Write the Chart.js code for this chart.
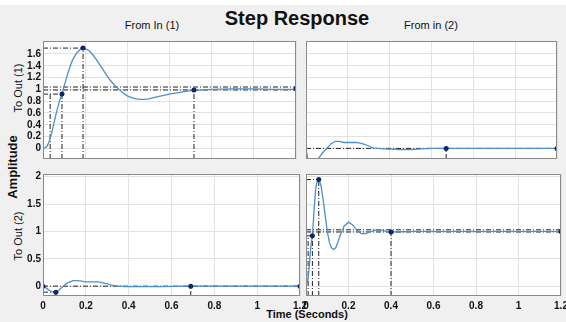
<!DOCTYPE html>
<html>
<head>
  <title>Step Response</title>
  <script src="https://cdn.jsdelivr.net/npm/chart.js"></script>
  <style>
    body { margin: 0; background: #f0f0f0; overflow: hidden; font-family: "Liberation Sans", Arial, sans-serif; color: #111; }
    #fig { position: relative; width: 566px; height: 322px; background: #f0f0f0; }
    #fig canvas { position: absolute; }
    .txt { position: absolute; white-space: nowrap; line-height: 1; }
    .rot { transform: translate(-50%, -50%) rotate(-90deg); }
  </style>
</head>
<body>
<div id="fig">
  <div style="position:absolute;left:0;top:0;width:566px;height:5px;background:#fff"></div>
  <canvas id="br" width="266" height="142" style="left:300px;top:170px;z-index:1"></canvas>
  <canvas id="bl" width="310" height="142" style="left:0;top:170px;z-index:2"></canvas>
  <canvas id="tr" width="261" height="126" style="left:300px;top:37px;z-index:1"></canvas>
  <canvas id="tl" width="300" height="126" style="left:0;top:37px;z-index:2"></canvas>

  <div class="txt" style="left:297px;top:8px;transform:translateX(-50%);font-size:20px;font-weight:bold">Step Response</div>
  <div class="txt" style="left:152px;top:20px;transform:translateX(-50%);font-size:11px">From In (1)</div>
  <div class="txt" style="left:431px;top:20px;transform:translateX(-50%);font-size:11px">From in (2)</div>
  <div class="txt rot" style="left:12px;top:167px;font-size:13px;font-weight:bold">Amplitude</div>
  <div class="txt rot" style="left:18px;top:88px;font-size:11px">To Out (1)</div>
  <div class="txt rot" style="left:18px;top:236px;font-size:11px">To Out (2)</div>
  <div class="txt" style="left:307px;top:309px;transform:translateX(-50%);font-size:11px;font-weight:bold">Time (Seconds)</div>
</div>

<script>
  // axes
  const xTicks = [0, 0.2, 0.4, 0.6, 0.8, 1, 1.2];
  const xRange = [0, 1.2];
  const yTicksTop = [0, 0.2, 0.4, 0.6, 0.8, 1, 1.2, 1.4, 1.6];
  const yRangeTop = [-0.18, 1.82];
  const yTicksBottom = [0, 0.5, 1, 1.5, 2];
  const yRangeBottom = [-0.18, 2.05];

  // From In(1) to Out(1)
  const t11 = [0, 0.01, 0.02, 0.03, 0.04, 0.05, 0.06, 0.07, 0.08, 0.09, 0.1, 0.12, 0.14, 0.16, 0.18, 0.19, 0.2, 0.22, 0.24, 0.26, 0.28, 0.3, 0.32, 0.34, 0.36, 0.38, 0.4, 0.42, 0.44, 0.46, 0.48, 0.5, 0.55, 0.6, 0.65, 0.7, 0.8, 0.9, 1.0, 1.1, 1.2];
  const y11 = [0, 0.01, 0.04, 0.12, 0.25, 0.4, 0.55, 0.7, 0.82, 0.92, 1.05, 1.3, 1.5, 1.62, 1.69, 1.7, 1.69, 1.65, 1.57, 1.47, 1.36, 1.25, 1.15, 1.07, 1.0, 0.94, 0.89, 0.86, 0.84, 0.83, 0.83, 0.84, 0.88, 0.92, 0.95, 0.98, 1.0, 1.01, 1.01, 1.0, 1.0];
  const band11 = [1.04, 0.99];
  const rise11 = [0.034, 0.09, 0.92];
  const peak11 = [0.19, 1.7];
  const settle11 = [0.716, 0.99];
  const final11 = [1.2, 1.01];

  // From In(2) to Out(1)
  const t12 = [0, 0.01, 0.02, 0.04, 0.06, 0.08, 0.1, 0.12, 0.14, 0.16, 0.18, 0.2, 0.22, 0.24, 0.26, 0.28, 0.3, 0.32, 0.34, 0.38, 0.45, 0.5, 0.55, 0.6, 0.67, 0.8, 1.0, 1.2];
  const y12 = [0, -0.22, -0.3, -0.3, -0.17, -0.07, 0, 0.08, 0.12, 0.12, 0.1, 0.1, 0.1, 0.1, 0.09, 0.07, 0.04, 0.01, 0, -0.01, -0.02, -0.02, -0.01, 0, 0, 0, 0, 0];
  const band12 = [0];
  const settle12 = [0.67, 0];
  const final12 = [1.2, 0];

  // From In(1) to Out(2)
  const t21 = [0, 0.01, 0.02, 0.03, 0.04, 0.05, 0.06, 0.07, 0.08, 0.09, 0.1, 0.12, 0.14, 0.16, 0.18, 0.2, 0.22, 0.24, 0.26, 0.28, 0.3, 0.32, 0.34, 0.38, 0.45, 0.55, 0.69, 0.8, 1.0, 1.2];
  const y21 = [0, -0.02, -0.05, -0.08, -0.1, -0.11, -0.11, -0.09, -0.05, -0.02, 0.02, 0.07, 0.1, 0.1, 0.09, 0.08, 0.08, 0.08, 0.08, 0.06, 0.04, 0.02, 0.005, -0.01, -0.01, -0.01, 0, 0, 0, 0];
  const band21 = [0];
  const peak21 = [0.06, -0.11];
  const settle21 = [0.69, 0];
  const final21 = [1.2, 0];

  // From In(2) to Out(2)
  const t22 = [0, 0.005, 0.01, 0.015, 0.02, 0.025, 0.03, 0.035, 0.04, 0.045, 0.05, 0.06, 0.07, 0.08, 0.09, 0.1, 0.11, 0.12, 0.13, 0.14, 0.15, 0.16, 0.18, 0.2, 0.22, 0.24, 0.26, 0.28, 0.3, 0.32, 0.34, 0.36, 0.38, 0.4, 0.5, 0.6, 0.8, 1.0, 1.2];
  const y22 = [0, 0.05, 0.15, 0.35, 0.6, 0.8, 0.92, 1.2, 1.5, 1.75, 1.88, 1.95, 1.85, 1.6, 1.3, 1.0, 0.8, 0.7, 0.67, 0.7, 0.8, 0.92, 1.1, 1.17, 1.12, 1.02, 0.96, 0.96, 0.99, 1.02, 1.03, 1.02, 1.0, 0.99, 1.0, 1.0, 1.0, 1.0, 1.0];
  const band22 = [1.03, 0.99];
  const rise22 = [0.01, 0.03, 0.92];
  const peak22 = [0.06, 1.95];
  const settle22 = [0.4, 0.99];
  const final22 = [1.2, 1.0];

  const tickFont = { family: "'Liberation Sans', Arial, sans-serif", size: 10, weight: 'bold' };

  function pts(ts, ys) { return ts.map((t, i) => ({ x: t, y: ys[i] })); }
  function curve(ts, ys) {
    return { data: pts(ts, ys), borderColor: '#4d8fca', borderWidth: 1.3, pointRadius: 0, tension: 0, order: 1 };
  }
  function refLine(ts, ys) {
    return { data: pts(ts, ys), borderColor: '#222', borderWidth: 1, borderDash: [5, 2, 1, 2], pointRadius: 0, order: 2 };
  }
  function marks(list) {
    return { data: list.map(p => ({ x: p[0], y: p[1] })), showLine: false, pointRadius: 2.5,
      pointBackgroundColor: '#14246b', pointBorderWidth: 0, order: 0 };
  }
  // dash-dot characteristic lines
  function bandLines(levels) { return levels.map(v => refLine(xRange, [v, v])); }
  function riseLines(r, ymin) {
    return [refLine([r[0], r[0]], [ymin, r[2]]), refLine([r[1], r[1]], [ymin, r[2]]), refLine([0, r[1]], [r[2], r[2]])];
  }
  function peakLines(p, ymin) { return [refLine([0, p[0]], [p[1], p[1]]), refLine([p[0], p[0]], [ymin, p[1]])]; }
  function settleLine(s, ymin) { return refLine([s[0], s[0]], [ymin, s[1]]); }

  const frame = {
    id: 'frame',
    beforeDraw(chart) {
      const a = chart.chartArea, ctx = chart.ctx;
      ctx.save(); ctx.fillStyle = '#fff'; ctx.fillRect(a.left, a.top, a.width, a.height); ctx.restore();
    },
    afterDraw(chart) {
      const a = chart.chartArea, ctx = chart.ctx;
      ctx.save(); ctx.strokeStyle = '#8a8a8a'; ctx.lineWidth = 1;
      ctx.strokeRect(a.left + 0.5, a.top + 0.5, a.width - 1, a.height - 1); ctx.restore();
    }
  };

  function panel(id, datasets, yRange, yTicks, o) {
    new Chart(document.getElementById(id), {
      type: 'line',
      data: { datasets: datasets },
      options: {
        responsive: false, animation: false, events: [],
        layout: { padding: { left: 0, top: 0, bottom: 0, right: o.padRight } },
        plugins: { legend: { display: false }, tooltip: { enabled: false } },
        scales: {
          x: {
            type: 'linear', min: xRange[0], max: xRange[1],
            afterBuildTicks: s => { s.ticks = xTicks.map(v => ({ value: v })); },
            afterFit: s => { s.height = o.xLabels ? 16 : 0; s.paddingLeft = 0; s.paddingRight = 0; },
            grid: { color: '#e2e2e2', drawTicks: false }, border: { display: false },
            ticks: { display: o.xLabels, padding: 4, autoSkip: false, maxRotation: 0, font: tickFont, color: '#111', callback: v => String(v) }
          },
          y: {
            type: 'linear', min: yRange[0], max: yRange[1],
            afterBuildTicks: s => { s.ticks = yTicks.map(v => ({ value: v })); },
            afterFit: s => { s.width = o.yWidth; s.paddingTop = 0; s.paddingBottom = 0; },
            grid: { color: '#e2e2e2', drawTicks: false }, border: { display: false },
            ticks: { display: o.yLabels, padding: 2, autoSkip: false, font: tickFont, color: '#111', callback: v => String(v) }
          }
        }
      },
      plugins: [frame]
    });
  }

  const ymT = yRangeTop[0], ymB = yRangeBottom[0];

  panel('tl', [curve(t11, y11), ...bandLines(band11), ...riseLines(rise11, ymT), ...peakLines(peak11, ymT),
    settleLine(settle11, ymT), marks([[rise11[1], rise11[2]], peak11, settle11, final11])],
    yRangeTop, yTicksTop, { yWidth: 43, yLabels: true, xLabels: false, padRight: 0 });

  panel('tr', [curve(t12, y12), ...bandLines(band12), settleLine(settle12, ymT), marks([settle12, final12])],
    yRangeTop, yTicksTop, { yWidth: 6, yLabels: false, xLabels: false, padRight: 0 });

  panel('bl', [curve(t21, y21), ...bandLines(band21), ...peakLines(peak21, ymB), settleLine(settle21, ymB),
    marks([[0, 0], peak21, settle21, final21])],
    yRangeBottom, yTicksBottom, { yWidth: 43, yLabels: true, xLabels: true, padRight: 10 });

  panel('br', [curve(t22, y22), ...bandLines(band22), ...riseLines(rise22, ymB), ...peakLines(peak22, ymB),
    settleLine(settle22, ymB), marks([[rise22[1], rise22[2]], peak22, settle22, final22])],
    yRangeBottom, yTicksBottom, { yWidth: 6, yLabels: false, xLabels: true, padRight: 5 });
</script>
</body>
</html>
